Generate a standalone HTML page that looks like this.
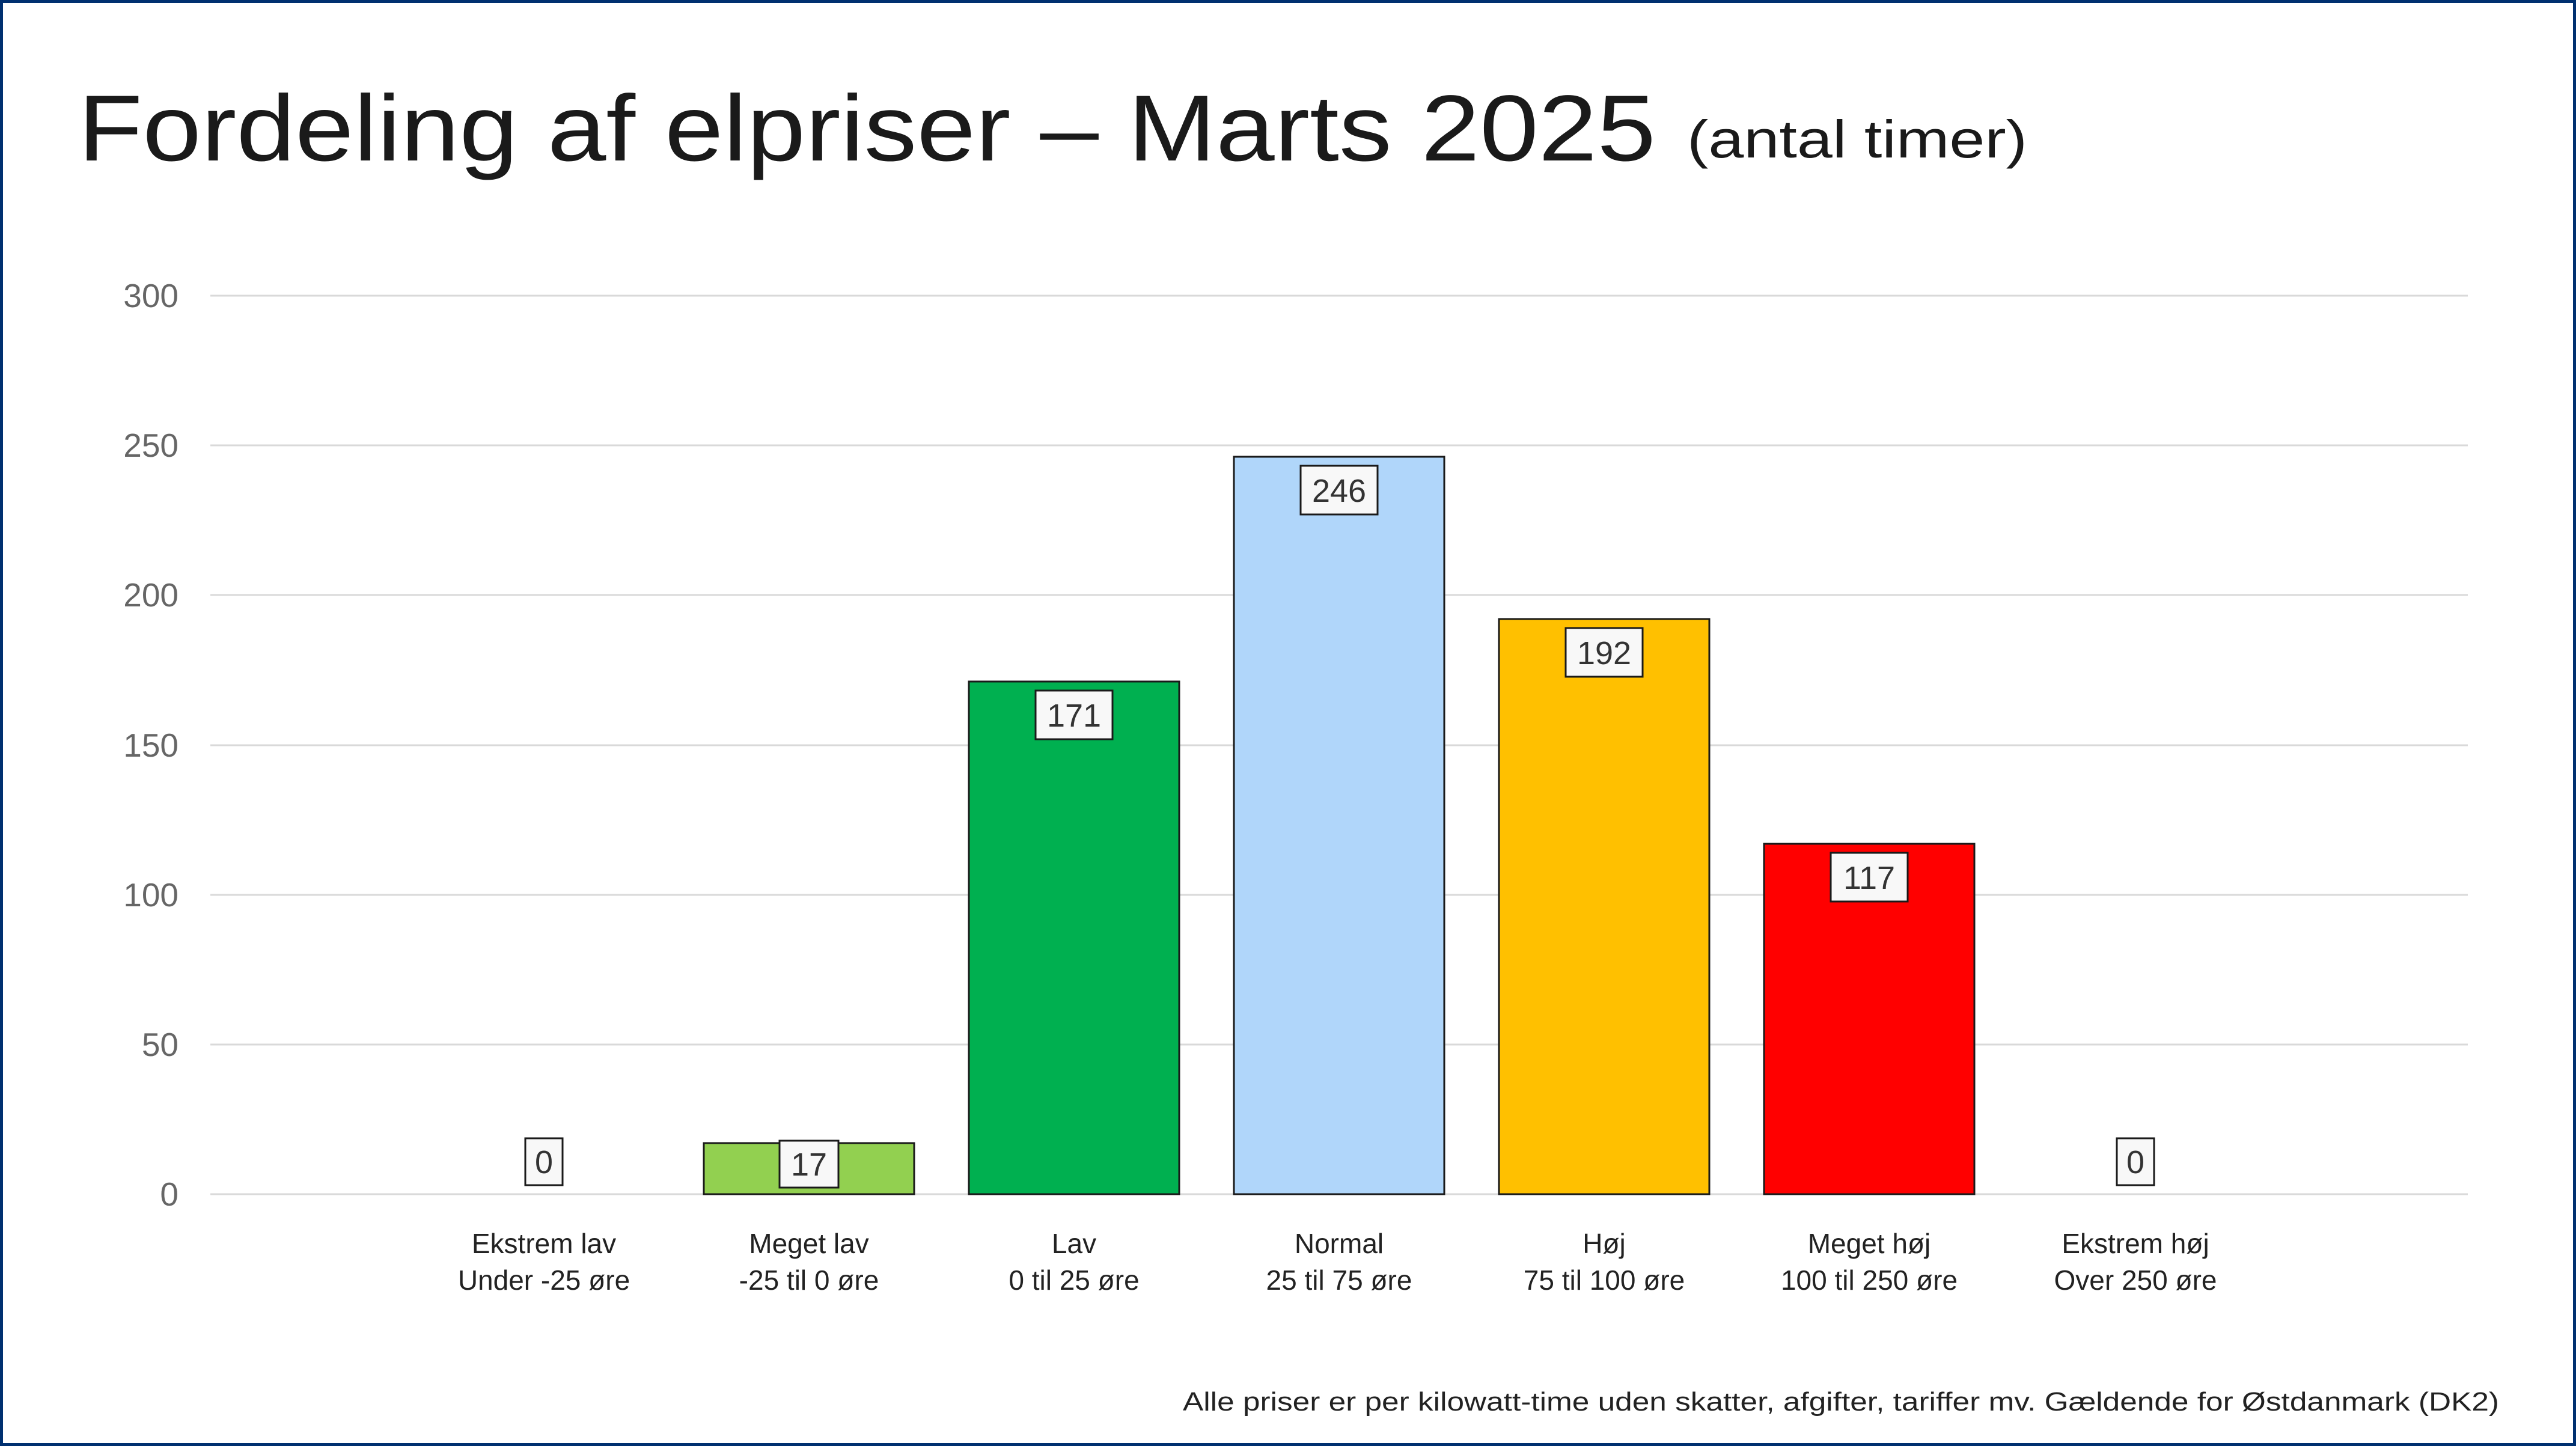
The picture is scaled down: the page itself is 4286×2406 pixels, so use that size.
<!DOCTYPE html>
<html><head><meta charset="utf-8"><style>
html,body{margin:0;padding:0;background:#fff}
svg{display:block}
text{font-family:"Liberation Sans","DejaVu Sans",sans-serif}
</style></head><body>
<svg width="4286" height="2406" viewBox="0 0 4286 2406" xmlns="http://www.w3.org/2000/svg">
<rect x="2.5" y="2.5" width="4281" height="2401" fill="#fff" stroke="#003070" stroke-width="5"/>
<text x="130" y="267" font-size="156" fill="#1a1a1a" textLength="2625" lengthAdjust="spacingAndGlyphs">Fordeling af elpriser – Marts 2025</text>
<text x="2807" y="262" font-size="88" fill="#1a1a1a" textLength="566" lengthAdjust="spacingAndGlyphs">(antal timer)</text>
<g stroke="#d9d9d9" stroke-width="3">
<line x1="350" x2="4106" y1="492" y2="492"/>
<line x1="350" x2="4106" y1="741" y2="741"/>
<line x1="350" x2="4106" y1="990" y2="990"/>
<line x1="350" x2="4106" y1="1240" y2="1240"/>
<line x1="350" x2="4106" y1="1489" y2="1489"/>
<line x1="350" x2="4106" y1="1738" y2="1738"/>
<line x1="350" x2="4106" y1="1987" y2="1987"/>
</g>
<g font-size="55" fill="#666" text-anchor="end">
<text x="297" y="511">300</text>
<text x="297" y="760">250</text>
<text x="297" y="1009">200</text>
<text x="297" y="1259">150</text>
<text x="297" y="1508">100</text>
<text x="297" y="1757">50</text>
<text x="297" y="2006">0</text>
</g>
<g stroke="#1a1a1a" stroke-width="3">
<rect x="1171" y="1902" width="350" height="85" fill="#92d050"/>
<rect x="1612" y="1134" width="350" height="853" fill="#00b050"/>
<rect x="2053" y="760" width="350" height="1227" fill="#b0d6fa"/>
<rect x="2494" y="1030" width="350" height="957" fill="#ffc000"/>
<rect x="2935" y="1404" width="350" height="583" fill="#ff0000"/>
</g>
<g stroke="#1a1a1a" stroke-width="3" fill="#f8f8f8">
<rect x="874" y="1894" width="62" height="78"/>
<rect x="1297" y="1898" width="98" height="78"/>
<rect x="1723" y="1149" width="128" height="81"/>
<rect x="2164" y="775" width="128" height="81"/>
<rect x="2605" y="1045" width="128" height="81"/>
<rect x="3046" y="1419" width="128" height="81"/>
<rect x="3522" y="1894" width="62" height="78"/>
</g>
<g font-size="54" fill="#333" text-anchor="middle">
<text x="905" y="1952">0</text>
<text x="1346" y="1956">17</text>
<text x="1787" y="1209">171</text>
<text x="2228" y="835">246</text>
<text x="2669" y="1105">192</text>
<text x="3110" y="1479">117</text>
<text x="3553" y="1952">0</text>
</g>
<g font-size="46" fill="#222" text-anchor="middle">
<text x="905" y="2085">Ekstrem lav</text><text x="905" y="2146">Under -25 øre</text>
<text x="1346" y="2085">Meget lav</text><text x="1346" y="2146">-25 til 0 øre</text>
<text x="1787" y="2085">Lav</text><text x="1787" y="2146">0 til 25 øre</text>
<text x="2228" y="2085">Normal</text><text x="2228" y="2146">25 til 75 øre</text>
<text x="2669" y="2085">Høj</text><text x="2669" y="2146">75 til 100 øre</text>
<text x="3110" y="2085">Meget høj</text><text x="3110" y="2146">100 til 250 øre</text>
<text x="3553" y="2085">Ekstrem høj</text><text x="3553" y="2146">Over 250 øre</text>
</g>
<text x="4158" y="2347" font-size="44" fill="#222" text-anchor="end" textLength="2190" lengthAdjust="spacingAndGlyphs">Alle priser er per kilowatt-time uden skatter, afgifter, tariffer mv. Gældende for Østdanmark (DK2)</text>
</svg>
</body></html>
